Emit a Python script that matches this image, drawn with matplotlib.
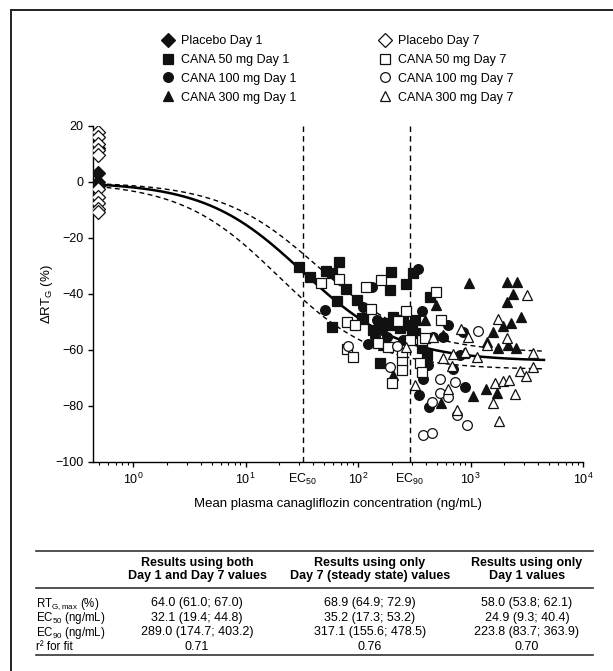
import numpy as np
import matplotlib
matplotlib.use('Agg')
import matplotlib.pyplot as plt
from matplotlib.lines import Line2D
from matplotlib.ticker import LogLocator, NullFormatter

plt.rcParams['font.family'] = ['Liberation Sans', 'DejaVu Sans']
plt.rcParams['mathtext.fontset'] = 'custom'
plt.rcParams['mathtext.rm'] = 'Liberation Sans'
plt.rcParams['mathtext.it'] = 'Liberation Sans:italic'
plt.rcParams['mathtext.bf'] = 'Liberation Sans:bold'
plt.rcParams['mathtext.default'] = 'regular'
plt.rcParams['font.size'] = 9

# ---- data (concentration ng/mL, change in RTG %) ----
placebo_conc = 0.49
placebo_d1 = [12.0, 3.2, 0.0, -1.5]
placebo_d7 = [18.0, 16.0, 13.5, 11.5, 9.5, -2.5, -5.5, -7.5, -9.5, -10.7]

c50_d1_x = [30.1, 37.4, 52.0, 58.4, 68.2, 77.8, 64.7, 97.3, 58.4, 196, 267, 192, 310, 110,
            157, 206, 253, 321, 300, 137, 436, 108, 162, 199, 236, 290, 321, 368, 408]
c50_d1_y = [-30.5, -34.0, -31.7, -32.6, -28.7, -38.3, -42.4, -42.1, -51.9, -32.3, -36.4, -38.6,
            -32.6, -49.0, -64.8, -48.1, -49.3, -49.3, -52.9, -52.9, -41.0, -48.7, -50.5, -51.1,
            -52.3, -51.1, -54.0, -59.4, -61.8]

c50_d7_x = [46.6, 68.2, 118, 160, 130, 79.4, 94.1, 79.4, 90.8, 266, 151, 186, 290, 245, 245,
            245, 201, 228, 368, 356, 368, 494, 543, 394]
c50_d7_y = [-36.2, -34.8, -37.4, -35.0, -45.5, -49.9, -51.1, -59.8, -62.4, -46.0, -57.6, -59.0,
            -56.4, -61.2, -64.2, -67.1, -71.7, -49.5, -56.4, -64.5, -67.8, -39.2, -49.3, -55.8]

c100_d1_x = [50.9, 123, 147, 142, 343, 368, 380, 349, 430, 134, 111, 162, 635, 573, 863, 421,
             703, 893, 806, 467, 151, 180, 253]
c100_d1_y = [-45.7, -57.9, -49.3, -55.3, -31.2, -46.0, -70.5, -76.1, -80.3, -37.4, -44.5, -52.9,
             -51.1, -55.3, -53.5, -65.4, -66.9, -73.1, -61.8, -55.3, -52.3, -55.3, -56.4]

c100_d7_x = [82.0, 220, 192, 1173, 535, 728, 535, 635, 452, 754, 937, 376, 457]
c100_d7_y = [-58.6, -58.6, -66.0, -53.1, -70.5, -71.3, -75.5, -76.7, -78.5, -83.2, -86.8,
             -90.4, -89.5]

c300_d1_x = [394, 206, 168, 494, 970, 2100, 2580, 2374, 2100, 2793, 2291, 1932, 1574, 1393,
             1766, 2167, 2537, 881, 1047, 547, 1374, 1730, 566]
c300_d1_y = [-49.3, -68.9, -58.2, -43.9, -36.0, -35.6, -35.6, -40.0, -42.7, -48.1, -50.5, -51.4,
             -53.5, -57.0, -59.4, -58.2, -59.4, -61.2, -76.4, -78.8, -74.0, -75.3, -54.6]

c300_d7_x = [267, 321, 824, 955, 467, 573, 695, 681, 893, 1135, 1393, 1766, 2100, 3160, 3615,
             3615, 2754, 3113, 1652, 1932, 2213, 2488, 635, 1574, 1803, 764]
c300_d7_y = [-59.0, -72.5, -52.6, -55.3, -55.3, -63.0, -61.4, -65.7, -60.6, -62.4, -58.2, -49.0,
             -55.6, -40.4, -61.2, -66.0, -67.4, -69.3, -71.7, -71.0, -70.7, -75.7, -74.0, -79.0,
             -85.3, -81.4]

# Emax fit: estimate, upper and lower bound (from the table)
emax_fit = [64.0, 61.0, 67.0]
ec50_fit = [32.1, 44.8, 19.4]
ec90 = 289.0

col_headers = ['Results using both\nDay 1 and Day 7 values',
               'Results using only\nDay 7 (steady state) values',
               'Results using only\nDay 1 values']
row_labels = ['RT$_{G,max}$ (%)', 'EC$_{50}$ (ng/mL)', 'EC$_{90}$ (ng/mL)', 'r² for fit']
col_both = ['64.0 (61.0; 67.0)', '32.1 (19.4; 44.8)', '289.0 (174.7; 403.2)', '0.71']
col_day7 = ['68.9 (64.9; 72.9)', '35.2 (17.3; 53.2)', '317.1 (155.6; 478.5)', '0.76']
col_day1 = ['58.0 (53.8; 62.1)', '24.9 (9.3; 40.4)', '223.8 (83.7; 363.9)', '0.70']

W, H = 613, 671
fig = plt.figure(figsize=(W / 100, H / 100), dpi=100)


def fx(x):
    return x / W


def fy(y):
    return 1 - y / H


ax = fig.add_axes([fx(93), fy(462), fx(583) - fx(93), fy(126) - fy(462)])

# fitted curves
cc = np.logspace(np.log10(placebo_conc), np.log10(4500), 300)
for i, (em, e50) in enumerate(zip(emax_fit, ec50_fit)):
    ax.plot(cc, -em * cc / (e50 + cc), color='black',
            lw=1.8 if i == 0 else 1.0, ls='-' if i == 0 else (0, (3.5, 2.5)), zorder=2)

for v in [ec50_fit[0], ec90]:
    ax.axvline(v, color='black', lw=1.0, ls=(0, (4, 3)), zorder=1)

ms = 7
groups = [
    ([placebo_conc] * len(placebo_d1), placebo_d1, 'D', True, 'Placebo Day 1'),
    (c50_d1_x, c50_d1_y, 's', True, 'CANA 50 mg Day 1'),
    (c100_d1_x, c100_d1_y, 'o', True, 'CANA 100 mg Day 1'),
    (c300_d1_x, c300_d1_y, '^', True, 'CANA 300 mg Day 1'),
    ([placebo_conc] * len(placebo_d7), placebo_d7, 'D', False, 'Placebo Day 7'),
    (c50_d7_x, c50_d7_y, 's', False, 'CANA 50 mg Day 7'),
    (c100_d7_x, c100_d7_y, 'o', False, 'CANA 100 mg Day 7'),
    (c300_d7_x, c300_d7_y, '^', False, 'CANA 300 mg Day 7'),
]
handles = []
for xs, ys, mk, filled, lab in groups:
    fc = '#111111' if filled else 'white'
    ax.plot(xs, ys, ls='none', marker=mk, ms=ms, mfc=fc, mec='#111111', mew=0.9, zorder=3)
    handles.append(Line2D([], [], ls='none', marker=mk, ms=ms, mfc=fc, mec='#111111',
                          mew=0.9, label=lab))

ax.set_xscale('log')
ax.set_xlim(0.44, 1e4)
ax.set_ylim(-100, 20)
ax.set_xticks([1, 10, 100, 1000, 10000])
ax.xaxis.set_minor_locator(LogLocator(subs=np.arange(2, 10)))
ax.xaxis.set_minor_formatter(NullFormatter())
ax.set_yticks(np.arange(-100, 21, 20))
ax.spines['top'].set_visible(False)
ax.spines['right'].set_visible(False)
for s in ['left', 'bottom']:
    ax.spines[s].set_linewidth(1.0)
ax.tick_params(which='major', length=3.5, width=1.0, labelsize=9)
ax.tick_params(which='minor', length=2.5, width=0.8)

for v, lab in [(ec50_fit[0], 'EC$_{50}$'), (ec90, 'EC$_{90}$')]:
    ax.annotate(lab, xy=(v, 0), xycoords=('data', 'axes fraction'), xytext=(0, -7),
                textcoords='offset points', ha='center', va='top', fontsize=9)

ax.set_xlabel('Mean plasma canagliflozin concentration (ng/mL)', fontsize=9.5)
ax.xaxis.set_label_coords(0.5, -0.108)
ax.set_ylabel('ΔRT$_{G}$ (%)', fontsize=9.5)
ax.yaxis.set_label_coords(-0.078, 0.5)

fig.legend(handles=handles, ncol=2, loc='upper left', bbox_to_anchor=(fx(157), fy(30)),
           frameon=False, fontsize=9, handlelength=1.0, handletextpad=0.5,
           columnspacing=6.6, labelspacing=0.55, borderaxespad=0)

# table
lw_t = 1.2
for y in [551, 588, 655]:
    fig.add_artist(Line2D([fx(36), fx(593)], [fy(y), fy(y)], color='#333333', lw=lw_t))

col_x = [197, 370, 527]
row_y = [601.5, 616, 630.5, 645]
for cx, head in zip(col_x, col_headers):
    fig.text(fx(cx), fy(569.5), head, ha='center', va='center', fontsize=9, fontweight='bold',
             linespacing=1.1)
for ry, lab in zip(row_y, row_labels):
    fig.text(fx(36), fy(ry), lab, ha='left', va='center_baseline', fontsize=8.3)
for cx, col in zip(col_x, [col_both, col_day7, col_day1]):
    for ry, val in zip(row_y, col):
        fig.text(fx(cx), fy(ry), val, ha='center', va='center_baseline', fontsize=9)

# figure border (left and top)
fig.add_artist(Line2D([fx(11), fx(11)], [fy(10), 0], color='#222222', lw=1.4))
fig.add_artist(Line2D([fx(11), 1], [fy(10), fy(10)], color='#222222', lw=1.4))

fig.savefig('out.png', dpi=100)
